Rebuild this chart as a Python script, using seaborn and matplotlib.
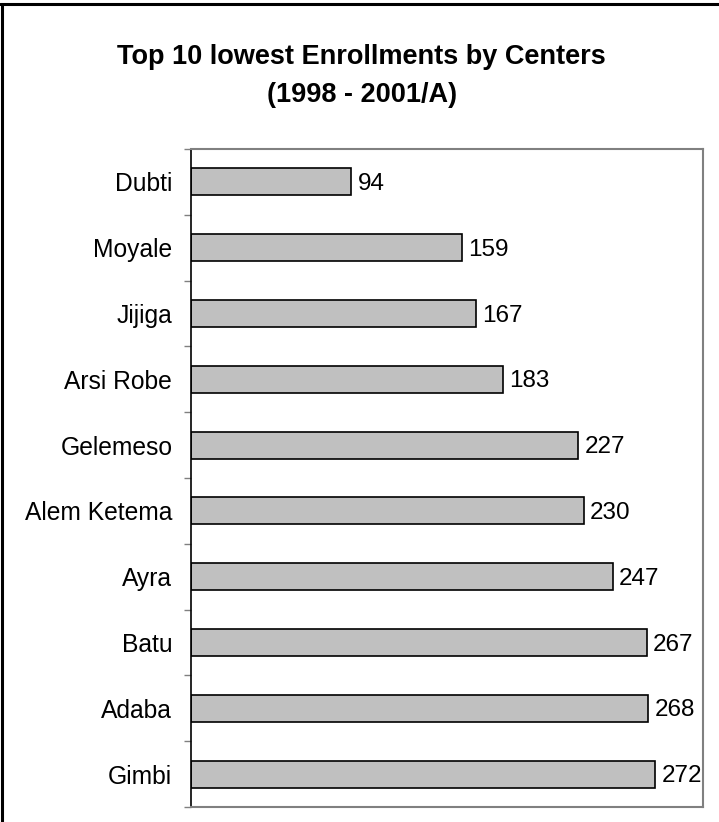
import pandas as pd
import seaborn as sns
from matplotlib import pyplot as plt
from matplotlib.lines import Line2D

# data
centers = ["Dubti", "Moyale", "Jijiga", "Arsi Robe", "Gelemeso",
           "Alem Ketema", "Ayra", "Batu", "Adaba", "Gimbi"]
enrollments = [94, 159, 167, 183, 227, 230, 247, 267, 268, 272]

df = pd.DataFrame({"center": centers, "enrollment": enrollments})

sns.set_style("white")
plt.rcParams["font.family"] = ["Liberation Sans", "DejaVu Sans"]
plt.rcParams["text.color"] = "black"
plt.rcParams["ytick.color"] = "black"

fig = plt.figure(figsize=(7.19, 8.22), dpi=100)
ax = fig.add_axes([191 / 719, 1 - 807 / 822, (703 - 191) / 719, (807 - 149) / 822])

sns.barplot(data=df, x="enrollment", y="center", color="#C0C0C0",
            edgecolor="black", linewidth=1.2, width=0.41, saturation=1, ax=ax)

for i, v in enumerate(enrollments):
    ax.annotate(str(v), (v, i), xytext=(4.5, -1.5), textcoords="offset points",
                va="center", ha="left", fontsize=17.5, color="black")

ax.set_xlim(0, 300)
ax.set_ylim(len(centers) - 0.5, -0.5)
ax.set_xlabel("")
ax.set_ylabel("")
ax.set_xticks([])

# ticks between categories
ax.set_yticks([i - 0.5 for i in range(len(centers) + 1)], minor=False)
ax.set_yticklabels([])
ax.set_yticks(range(len(centers)), minor=True)
ax.set_yticklabels(centers, minor=True, fontsize=17.7, color="black")
ax.tick_params(axis="y", which="major", left=True, length=5, width=1, color="#808080")
ax.tick_params(axis="y", which="minor", left=False, length=0, pad=13.5)

for side in ["top", "right", "bottom"]:
    ax.spines[side].set_color("#808080")
    ax.spines[side].set_linewidth(1.5)
ax.spines["left"].set_color("black")
ax.spines["left"].set_linewidth(1.2)

fig.text(0.503, 1 - 57 / 822, "Top 10 lowest Enrollments by Centers",
         ha="center", va="center", fontsize=19.5, fontweight="bold", color="black")
fig.text(0.503, 1 - 95 / 822, "(1998 - 2001/A)",
         ha="center", va="center", fontsize=19.5, fontweight="bold", color="black")

# outer border (left and top)
fig.add_artist(Line2D([1.5 / 719, 1.5 / 719], [0, 1 - 4.5 / 822], color="black", lw=2.2,
                      transform=fig.transFigure))
fig.add_artist(Line2D([0, 1], [1 - 4.5 / 822, 1 - 4.5 / 822], color="black", lw=2.2,
                      transform=fig.transFigure))

fig.savefig("out.png", dpi=100)
